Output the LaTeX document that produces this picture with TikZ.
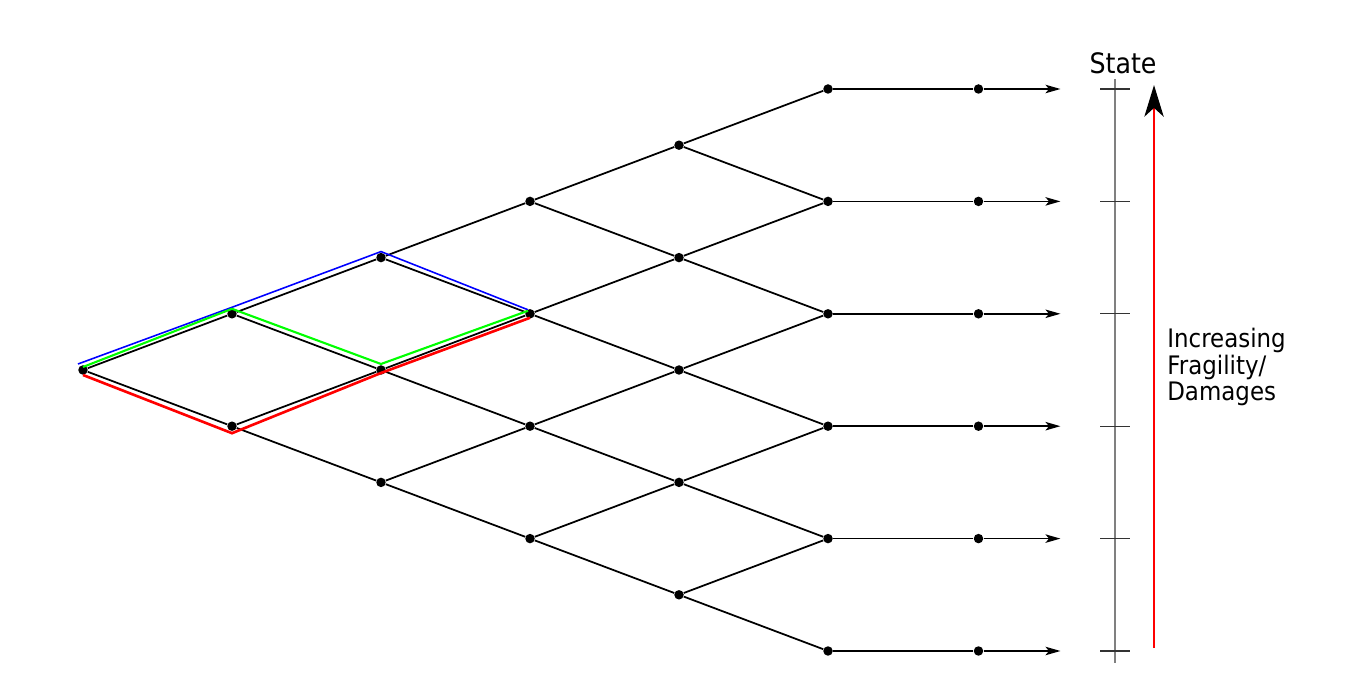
\documentclass[tikz,border=0pt]{standalone}
\usepackage{fontspec}
\usepackage{tikz}
\usetikzlibrary{arrows.meta}
\newfontfamily\labelfont[FakeStretch=0.9]{DejaVu Sans}

\begin{document}
\begin{tikzpicture}[x=2.98cm,y=1.124cm,
		dot/.style={circle,fill=black,inner sep=0pt,minimum size=5.4pt},
		branch/.style={black,line width=1pt},
		tip/.style={-{Stealth[length=8.5pt,width=4.8pt,inset=2pt]}},
		bluepath/.style={blue,line width=0.9pt},
		greenpath/.style={green,line width=1.2pt},
		redpath/.style={red,line width=1.5pt}]
	\useasboundingbox (-1.66cm,-6.44cm) rectangle (25.42cm,7.40cm);
		%Lattice nodes
			\foreach \i in {0,...,5}
			{
				\foreach \k in {0,...,\i}
				{
					\node[dot] (n-\i-\k) at (\i,{2*\k-\i}) {};
				}
			}
		%Branches
			\foreach \i in {0,...,4}
			{
				\foreach \k in {0,...,\i}
				{
					\pgfmathtruncatemacro\ni{\i+1}
					\pgfmathtruncatemacro\nk{\k+1}
					\draw[branch] (n-\i-\k) -- (n-\ni-\k);
					\draw[branch] (n-\i-\k) -- (n-\ni-\nk);
				}
			}
		%Final states
			\foreach \k in {0,...,5}
			{
				\node[dot] (m-\k) at (6.01,{2*\k-5}) {};
				\coordinate (e-\k) at (6.56,{2*\k-5});
				\draw[branch] (n-5-\k) -- (m-\k);
				\draw[branch,tip] (m-\k) -- (e-\k);
			}
		%Paths
			\draw[bluepath] ([shift={(-0.1cm,0.12cm)}]n-0-0.center) -- ([yshift=0.13cm]n-1-1.center) -- ([yshift=0.12cm]n-2-2.center) -- ([shift={(-0.04cm,0.08cm)}]n-3-2.center);
			\draw[greenpath] ([yshift=0.06cm]n-0-0.center) -- ([yshift=0.1cm]n-1-1.center) -- ([yshift=0.12cm]n-2-1.center) -- ([shift={(-0.04cm,0.06cm)}]n-3-2.center);
			\draw[redpath] ([yshift=-0.1cm]n-0-0.center) -- ([yshift=-0.14cm]n-1-0.center) -- ([yshift=-0.06cm]n-2-1.center) -- ([yshift=-0.08cm]n-3-2.center);
		%State axis
			\coordinate (axtop) at (6.926,5.18);
			\coordinate (axbot) at (6.926,-5.21);
			\draw[gray,line width=0.9pt] (axtop) -- (axbot);
			\foreach \j in {5,3,1,-1,-3,-5}
			{
				\draw[black!80,line width=0.7pt] (6.826,\j) -- (7.026,\j);
			}
			\node[anchor=base,inner sep=0pt,font=\labelfont\fontsize{16}{19}\selectfont] (state) at (6.98,5.267) {State};
		%Fragility arrow
			\coordinate (fragbot) at (7.188,-4.947);
			\coordinate (fragtop) at (7.188,5.07);
			\draw[red,line width=1.1pt,-{Stealth[length=18pt,width=11pt,inset=5pt,black]}] (fragbot) -- (fragtop);
			\node[anchor=west,align=left,inner sep=0pt,font=\labelfont\fontsize{14.5}{15}\selectfont] (fragility) at (7.275,0.053) {Increasing\\Fragility/\\Damages};
\end{tikzpicture}
\end{document}
